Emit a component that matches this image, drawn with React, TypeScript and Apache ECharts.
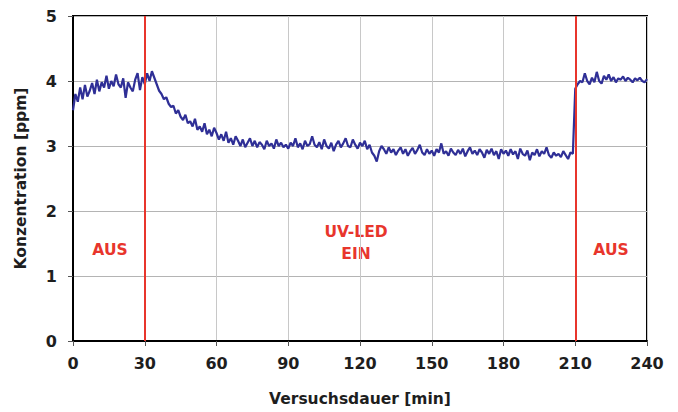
import React, { useEffect, useRef } from "react";
import * as echarts from "echarts";

const xTicks = [0, 30, 60, 90, 120, 150, 180, 210, 240];
const yTicks = [0, 1, 2, 3, 4, 5];

const seg0 = [3.55, 3.80, 3.68, 3.90, 3.72, 3.94, 3.76, 3.85, 3.97, 3.80, 4.02, 3.84, 3.98, 3.90, 4.08, 3.88, 4.00, 3.92, 4.10, 3.95, 3.90, 4.04, 3.74, 3.98, 3.90, 3.84, 4.02, 4.12, 3.86, 4.06];
const seg30 = [3.95, 4.12, 4.00, 4.15, 4.05, 3.95, 3.85, 3.80, 3.72, 3.75, 3.65, 3.60, 3.62, 3.50, 3.55, 3.45, 3.40, 3.48, 3.35, 3.38, 3.30, 3.42, 3.25, 3.30, 3.22, 3.35, 3.18, 3.25, 3.15, 3.28];
const seg60 = [3.20, 3.10, 3.18, 3.08, 3.22, 3.05, 3.12, 3.02, 3.15, 3.08, 3.00, 3.10, 2.98, 3.05, 3.12, 3.00, 3.08, 2.98, 3.06, 3.02, 2.95, 3.08, 3.00, 3.04, 2.96, 3.10, 3.00, 3.05, 2.98, 3.02];
const seg90 = [2.96, 3.05, 3.00, 3.12, 2.98, 3.04, 2.95, 3.08, 3.00, 3.03, 3.15, 3.02, 2.98, 3.06, 2.95, 3.10, 3.00, 2.96, 3.05, 2.92, 3.02, 3.08, 2.98, 3.04, 3.12, 3.00, 2.98, 3.10, 3.02, 2.96];
const seg120 = [3.05, 3.00, 3.08, 2.95, 3.02, 2.90, 2.85, 2.76, 2.92, 3.00, 2.95, 2.88, 2.98, 2.90, 2.95, 2.86, 2.93, 2.98, 2.88, 2.95, 2.85, 2.92, 2.97, 2.88, 2.94, 3.02, 2.90, 2.86, 2.95, 2.88];
const seg150 = [2.93, 2.85, 2.95, 2.90, 3.04, 2.88, 2.92, 2.85, 2.96, 2.90, 2.86, 2.94, 2.88, 2.96, 2.84, 2.92, 2.98, 2.88, 2.93, 2.86, 2.95, 2.90, 2.82, 2.94, 2.88, 2.96, 2.86, 2.92, 2.80, 2.95];
const seg180 = [2.88, 2.93, 2.85, 2.95, 2.87, 2.92, 2.80, 2.96, 2.88, 2.85, 2.93, 2.78, 2.90, 2.86, 2.95, 2.84, 2.92, 2.88, 2.98, 2.86, 2.82, 2.90, 2.85, 2.88, 2.83, 2.92, 2.86, 2.80, 2.90, 2.88];
const seg210 = [3.88, 3.95, 4.00, 3.98, 4.12, 4.00, 3.95, 4.05, 3.98, 4.14, 4.00, 3.96, 4.08, 4.02, 4.10, 4.00, 4.06, 3.98, 4.04, 4.02, 4.07, 4.00, 4.05, 4.02, 3.98, 4.04, 4.01, 4.05, 4.00, 3.98, 4.03];

const concentration = [...seg0, ...seg30, ...seg60, ...seg90, ...seg120, ...seg150, ...seg180, ...seg210];
const switchTimes = [30, 210];
const labels = ["AUS", "UV-LED\nEIN", "AUS"];

const FONT = "'DejaVu Sans', 'Liberation Sans', Arial, sans-serif";
const RED = "#e8352c";
const TXT = "#1e1e1e";

export default function App() {
  const ref = useRef<HTMLDivElement>(null);
  useEffect(() => {
    if (!ref.current) return;
    const chart = echarts.init(ref.current, null, { renderer: "svg" });
    const data = concentration.map((v, i) => [i, v]);
    chart.setOption({
      animation: false,
      backgroundColor: "#ffffff",
      grid: {
        left: 73,
        right: 31,
        top: 16,
        bottom: 71,
        show: true,
        borderColor: "#000",
        borderWidth: 2,
        backgroundColor: "transparent",
      },
      xAxis: {
        type: "value",
        min: xTicks[0],
        max: xTicks[xTicks.length - 1],
        interval: 30,
        name: "Versuchsdauer [min]",
        nameLocation: "middle",
        nameGap: 50,
        nameTextStyle: { fontFamily: FONT, fontWeight: "bold", fontSize: 15.5, color: TXT },
        axisLine: { lineStyle: { color: "#000", width: 2 } },
        axisTick: { show: true, length: 5, lineStyle: { color: "#555" } },
        axisLabel: { fontFamily: FONT, fontWeight: "bold", fontSize: 16, color: TXT, margin: 14 },
        splitLine: { show: true, lineStyle: { color: "#c8c8c8", width: 1 } },
      },
      yAxis: {
        type: "value",
        min: yTicks[0],
        max: yTicks[yTicks.length - 1],
        interval: 1,
        name: "Konzentration [ppm]",
        nameLocation: "middle",
        nameGap: 44,
        nameTextStyle: { fontFamily: FONT, fontWeight: "bold", fontSize: 15.5, color: TXT },
        axisLine: { lineStyle: { color: "#000", width: 2 } },
        axisTick: { show: true, length: 5, lineStyle: { color: "#555" } },
        axisLabel: { fontFamily: FONT, fontWeight: "bold", fontSize: 16, color: TXT, margin: 16 },
        splitLine: { show: true, lineStyle: { color: "#b4b4b4", width: 1 } },
      },
      series: [
        {
          type: "line",
          data,
          showSymbol: false,
          symbol: "none",
          lineStyle: { color: "#2f2f96", width: 2.2 },
          z: 3,
          markLine: {
            silent: true,
            symbol: "none",
            label: { show: false },
            lineStyle: { color: RED, width: 2, type: "solid" },
            data: switchTimes.map((t) => ({ xAxis: t })),
            z: 4,
          },
        },
      ],
      graphic: [
        { type: "text", x: 110, y: 250, style: { text: labels[0], fill: RED, font: `bold 15.5px ${FONT}`, textAlign: "center", textVerticalAlign: "middle" } },
        { type: "text", x: 356, y: 243, style: { text: labels[1], fill: RED, font: `bold 15.5px ${FONT}`, textAlign: "center", textVerticalAlign: "middle", lineHeight: 22 } },
        { type: "text", x: 611, y: 250, style: { text: labels[2], fill: RED, font: `bold 15.5px ${FONT}`, textAlign: "center", textVerticalAlign: "middle" } },
      ],
    });
    return () => chart.dispose();
  }, []);
  return <div ref={ref} style={{ position: "fixed", left: 0, top: 0, width: 678, height: 412 }} />;
}
